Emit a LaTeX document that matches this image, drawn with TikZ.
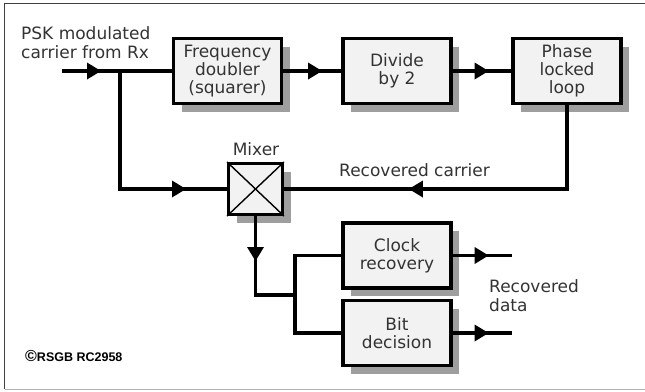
\documentclass[tikz,border=0pt]{standalone}
\usepackage{fontspec}
\setmainfont{DejaVu Sans}
\newfontfamily\cpfont{Liberation Sans}
\usetikzlibrary{arrows.meta,decorations.markings,shadows}
\tikzset{
  blk/.style={draw=black, line width=3.2pt, fill=black!5, minimum width=108pt, minimum height=65pt,
    align=center, font=\fontsize{17}{18}\selectfont\color{black!80},
    drop shadow={shadow xshift=8pt, shadow yshift=-8pt, fill=black!38, opacity=1}},
  wire/.style={line width=3.6pt, black},
  arr/.style={postaction={decorate}, decoration={markings,
    mark=at position #1 with {\fill[black] (0pt,0pt) -- (-14pt,8.5pt) -- (-14pt,-8.5pt) -- cycle;}}},
  lbl/.style={font=\fontsize{17}{19}\selectfont\color{black!80}, inner sep=0pt},
}
\begin{document}
\begin{tikzpicture}[x=1pt,y=-1pt]
\useasboundingbox (0,0) rectangle (645,391);
% frame
\draw[black!75, line width=1.5pt] (645,3.5) -- (4.5,3.5) -- (4.5,389);
\draw[black!30, line width=1.5pt] (4.5,389.5) -- (645,389.5);

% blocks
\node[blk] (fd) at (227.5,71) {Frequency\\doubler\\(squarer)};
\node[blk] (dv) at (397,71) {Divide\\by 2};
\node[blk] (pll) at (567,71) {Phase\\locked\\loop};
\node[blk] (clk) at (397,255.5) {Clock\\recovery};
\node[blk] (bit) at (397,333) {Bit\\decision};
\node[blk, minimum width=54pt, minimum height=51pt, line width=3pt] (mix) at (255.5,189) {};
\draw[line width=1.4pt] (mix.north west) -- (mix.south east);
\draw[line width=1.4pt] (mix.north east) -- (mix.south west);

% labels
\node[lbl, anchor=west, align=left] (psk) at (21,43) {PSK modulated\\carrier from Rx};
\node[lbl] (mixl) at (256,149) {Mixer};
\node[lbl, anchor=west] (rc) at (339,170) {Recovered carrier};
\node[lbl, anchor=west, align=left] (rd) at (489,296) {Recovered\\data};
\node[anchor=west, inner sep=0pt, font=\cpfont\bfseries\fontsize{12.5}{14}\selectfont] (cp) at (25,356) {{\fontsize{16}{14}\selectfont\textcopyright}RSGB RC2958};

% coordinates
\coordinate (in) at (62,71);
\coordinate (br) at (120,71);
\coordinate (busT) at (295,255.5);
\coordinate (busM) at (295,295);
\coordinate (busB) at (295,333);
\coordinate (o1) at (512,255.5);
\coordinate (o2) at (512,333);

% wires
\draw[wire, arr=39pt] (in) -- (fd.west);
\draw[wire, arr=184pt] (br) |- (mix.west);
\draw[wire, arr=39pt] (fd.east) -- (dv.west);
\draw[wire, arr=36pt] (dv.east) -- (pll.west);
\draw[wire, arr=242pt] (pll.south) |- (mix.east);
\draw[wire, arr=45pt] (mix.south) |- (busM);
\draw[wire] (clk.west) -- (busT) -- (busB) -- (bit.west);
\draw[wire, arr=36pt] (clk.east) -- (o1);
\draw[wire, arr=36pt] (bit.east) -- (o2);
\end{tikzpicture}
\end{document}
